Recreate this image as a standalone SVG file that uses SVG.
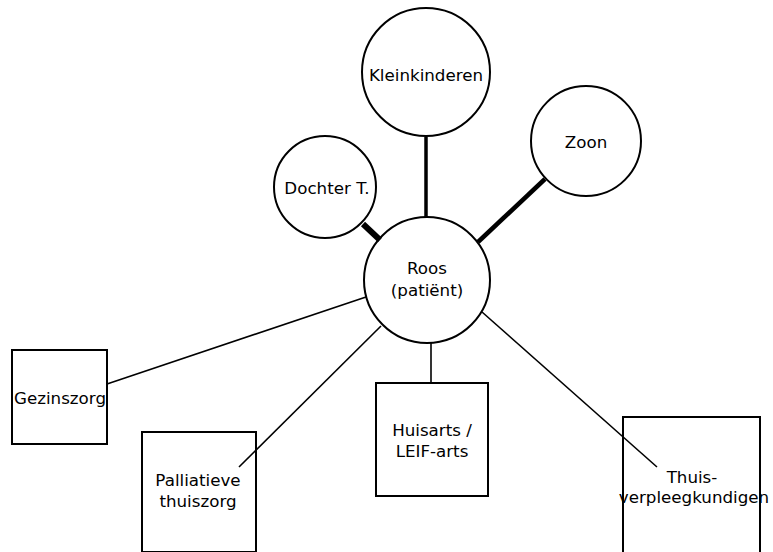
<svg xmlns="http://www.w3.org/2000/svg" width="773" height="552" viewBox="0 0 773 552">
<style>
.n{fill:#fff;stroke:#000;stroke-width:2}
.t{font-family:"DejaVu Sans",sans-serif;font-size:16.7px;text-anchor:middle;fill:#000}
.thin{stroke:#000;stroke-width:1.6;fill:none}
.thick{stroke:#000;fill:none}
</style>
<rect width="773" height="552" fill="#fff"/>
<g id="kleinkinderen"><circle class="n" cx="426" cy="72" r="64"/><text class="t" x="426" y="81">Kleinkinderen</text></g>
<g id="zoon"><circle class="n" cx="586" cy="141" r="55"/><text class="t" x="586" y="148">Zoon</text></g>
<g id="dochter"><circle class="n" cx="325" cy="187" r="51"/><text class="t" x="327" y="194">Dochter T.</text></g>
<g id="roos"><circle class="n" cx="427" cy="280" r="63"/><text class="t" x="427" y="274">Roos</text><text class="t" x="427" y="296">(patiënt)</text></g>
<g id="gezinszorg"><rect class="n" x="12" y="350" width="95" height="94"/><text class="t" x="60" y="404">Gezinszorg</text></g>
<g id="palliatieve"><rect class="n" x="142" y="432" width="114" height="120"/><text class="t" x="198" y="486">Palliatieve</text><text class="t" x="198" y="507">thuiszorg</text></g>
<g id="huisarts"><rect class="n" x="376" y="383" width="112" height="113"/><text class="t" x="432" y="436">Huisarts /</text><text class="t" x="432" y="457">LEIF-arts</text></g>
<g id="thuis"><rect class="n" x="623" y="417" width="137" height="136"/><text class="t" x="692" y="483">Thuis-</text><text class="t" x="694" y="503">verpleegkundigen</text></g>
<g id="connectors">
<line class="thick" x1="426" y1="137" x2="426" y2="217" stroke-width="3.5"/>
<line class="thick" x1="545" y1="179" x2="478" y2="242" stroke-width="4.5"/>
<line class="thick" x1="363" y1="224" x2="380" y2="240" stroke-width="6"/>
<line class="thin" x1="107" y1="384" x2="366" y2="297"/>
<line class="thin" x1="239" y1="467" x2="381" y2="326"/>
<line class="thin" x1="431" y1="343" x2="431" y2="383"/>
<line class="thin" x1="482" y1="312" x2="657" y2="467"/>
</g>
</svg>
